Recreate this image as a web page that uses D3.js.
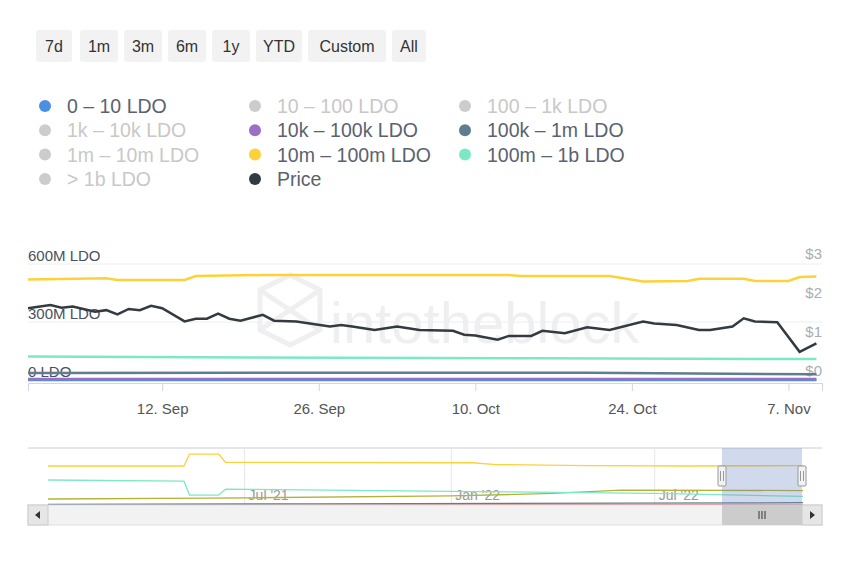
<!DOCTYPE html>
<html><head><meta charset="utf-8">
<script src="https://cdn.jsdelivr.net/npm/d3@7"></script>
<style>body{margin:0;background:#fff;font-family:"Liberation Sans",Arial,sans-serif}</style>
</head><body><svg id="c" width="850" height="567"></svg>
<script>
// --- data ---
const rangeButtons = ["7d", "1m", "3m", "6m", "1y", "YTD", "Custom", "All"];
const legendItems = [
  ["0 – 10 LDO", "#4a90e2", true], ["10 – 100 LDO", "#cccccc", false], ["100 – 1k LDO", "#cccccc", false],
  ["1k – 10k LDO", "#cccccc", false], ["10k – 100k LDO", "#9b6fc4", true], ["100k – 1m LDO", "#5f7d8c", true],
  ["1m – 10m LDO", "#cccccc", false], ["10m – 100m LDO", "#fdd13a", true], ["100m – 1b LDO", "#7de8c6", true],
  ["> 1b LDO", "#cccccc", false], ["Price", "#333a40", true]
];
const leftTicks = [0, 300e6, 600e6];
const rightTicks = [0, 1, 2, 3];
const xTicks = ["2022-09-12", "2022-09-26", "2022-10-10", "2022-10-24", "2022-11-07"];

// [day offset from Aug 31 2022, value]
const priceSeries = [[0,1.79],[2,1.87],[3,1.80],[4,1.83],[6,1.70],[7,1.74],[8,1.63],[9,1.77],[10,1.74],[11,1.85],[12,1.79],
  [14,1.45],[15,1.52],[16,1.52],[17,1.65],[18,1.52],[19,1.47],[21,1.62],[22,1.47],[24,1.45],[27,1.32],[28,1.36],[29,1.32],
  [31,1.23],[33,1.32],[35,1.23],[38,1.21],[39,1.11],[40,1.09],[42,0.98],[43,1.08],[45,1.08],[46,1.21],[48,1.15],[50,1.30],
  [52,1.23],[55,1.45],[56,1.40],[58,1.36],[60,1.23],[61,1.23],[63,1.32],[64,1.53],[65,1.45],[67,1.43],[69,0.67],[70.5,0.89]];
const whale10m = [[0,520e6],[7,526e6],[8,517e6],[14,517e6],[15,538e6],[21,543e6],[43,543e6],[44,538e6],[52,538e6],
  [55,509e6],[59,512e6],[60,524e6],[64,524e6],[65,512e6],[68,512e6],[69,533e6],[70.5,535e6]];
const whale100m = [[0,122e6],[20,116e6],[45,112e6],[70.5,108e6]];
const whale100k = [[0,36e6],[25,38e6],[50,37e6],[70.5,30e6]];
const whale10k = [[0,5e6],[70.5,5e6]];
const whale0 = [[0,0],[70.5,0]];

// navigator: [date, value]
const navYellow = [["2021-01-07",540e6],["2021-05-08",540e6],["2021-05-13",705e6],["2021-06-08",705e6],["2021-06-14",590e6],
  ["2022-01-20",585e6],["2022-02-10",560e6],["2022-05-01",545e6],["2022-08-01",540e6],["2022-11-10",545e6]];
const navTeal = [["2021-01-07",346e6],["2021-05-08",330e6],["2021-05-13",138e6],["2021-06-08",138e6],["2021-06-14",221e6],
  ["2022-01-01",190e6],["2022-07-01",160e6],["2022-11-10",120e6]];
const navOlive = [["2021-01-07",83e6],["2021-06-01",95e6],["2022-01-01",125e6],["2022-04-01",160e6],["2022-06-01",205e6],["2022-11-10",200e6]];
const navSlate = [["2021-01-07",10e6],["2021-09-01",15e6],["2022-06-01",25e6],["2022-11-10",32e6]];
const navRed = [["2021-01-07",0],["2022-11-10",0]];
const navTicks = [["2021-07-01","Jul '21"],["2022-01-01","Jan '22"],["2022-07-01","Jul '22"]];

const svg = d3.select("#c");
const parse = d3.utcParse("%Y-%m-%d");
const day0 = parse("2022-08-31");
const asDate = d => day0.getTime() + d[0] * 864e5;

// buttons
const btnX = [36, 80, 124, 168, 212, 256, 308, 392], btnW = [36, 38, 38, 38, 38, 46, 78, 34];
rangeButtons.forEach((b, i) => {
  svg.append("rect").attr("x", btnX[i]).attr("y", 30).attr("width", btnW[i]).attr("height", 32).attr("rx", 3).attr("fill", "#f2f2f2");
  svg.append("text").attr("x", btnX[i] + btnW[i] / 2).attr("y", 52).attr("text-anchor", "middle")
    .attr("font-size", 16).attr("fill", "#333").text(b);
});

// legend
legendItems.forEach((it, i) => {
  const x = 45 + (i % 3) * 210, y = 106 + Math.floor(i / 3) * 24.3;
  svg.append("circle").attr("cx", x).attr("cy", y).attr("r", 6).attr("fill", it[2] ? it[1] : "#ccc");
  svg.append("text").attr("x", x + 22).attr("y", y + 7).attr("font-size", 19.5)
    .attr("fill", it[2] ? "#5a6270" : "#c8c8c8").text(it[0]);
});

// main plot
const x = d3.scaleUtc().domain([day0, d3.utcDay.offset(day0, 71)]).range([28, 822]);
const yL = d3.scaleLinear().domain([0, 600e6]).range([380, 264]);
const yR = d3.scaleLinear().domain([0, 3]).range([378, 261]);

// watermark
const wm = svg.append("g").attr("opacity", 0.07);
wm.append("path").attr("d", "M260,290 L290,275 L320,290 L320,330 L290,345 L260,330 Z M260,290 L320,330 M320,290 L260,330")
  .attr("fill", "none").attr("stroke", "#334").attr("stroke-width", 5);
wm.append("text").attr("x", 330).attr("y", 343).attr("font-size", 58).attr("fill", "#334").text("intotheblock");

svg.append("g").selectAll("line").data(leftTicks).join("line")
  .attr("x1", 28).attr("x2", 822).attr("y1", d => yL(d)).attr("y2", d => yL(d)).attr("stroke", "#eceef2");
svg.append("g").selectAll("text").data(leftTicks).join("text")
  .attr("x", 28).attr("y", d => yL(d) - 3).attr("font-size", 15).attr("fill", "#4a5060")
  .text(d => d3.format("~s")(d) + " LDO");
svg.append("g").selectAll("text").data(rightTicks).join("text")
  .attr("x", 822).attr("y", d => yR(d) - 2).attr("text-anchor", "end").attr("font-size", 15).attr("fill", "#a8adb5")
  .text(d => "$" + d);

const lineL = d3.line().x(d => x(asDate(d))).y(d => yL(d[1]));
const lineR = d3.line().x(d => x(asDate(d))).y(d => yR(d[1]));
[[whale0, "#4a90e2"], [whale10k, "#9b6fc4"], [whale100k, "#5f7d8c"], [whale100m, "#7de8c6"], [whale10m, "#fdd13a"]]
  .forEach(([s, c]) => svg.append("path").datum(s).attr("d", lineL).attr("fill", "none").attr("stroke", c).attr("stroke-width", 2.5));
svg.append("path").datum(priceSeries).attr("d", lineR).attr("fill", "none").attr("stroke", "#333a40").attr("stroke-width", 2.5);

const xAxis = svg.append("g").attr("transform", "translate(0,383)")
  .call(d3.axisBottom(x).tickValues(xTicks.map(parse)).tickSize(8).tickFormat(d3.utcFormat("%-d. %b")));
xAxis.select(".domain").attr("stroke", "#ccd6eb");
xAxis.selectAll(".tick line").attr("stroke", "#ccd6eb");
xAxis.selectAll("text").attr("font-size", 15).attr("fill", "#555").attr("dy", "1.35em").attr("font-family", "Liberation Sans");

// navigator
const nx = d3.scaleUtc().domain([parse("2021-01-07"), parse("2022-11-10")]).range([48, 803]);
const ny = d3.scaleLinear().domain([0, 540e6]).range([505, 466]);
svg.append("line").attr("x1", 28).attr("x2", 822).attr("y1", 448).attr("y2", 448).attr("stroke", "#ccc");
svg.append("g").selectAll("line").data(navTicks).join("line")
  .attr("x1", d => nx(parse(d[0]))).attr("x2", d => nx(parse(d[0]))).attr("y1", 448).attr("y2", 505).attr("stroke", "#e6e6e6");
svg.append("g").selectAll("text").data(navTicks).join("text")
  .attr("x", d => nx(parse(d[0])) + 4).attr("y", 500).attr("font-size", 14).attr("fill", "#999").text(d => d[1]);
const navLine = d3.line().x(d => nx(parse(d[0]))).y(d => ny(d[1]));
[[navRed, "#c0504d"], [navSlate, "#5f7d8c"], [navOlive, "#b5b23a"], [navTeal, "#7de8c6"], [navYellow, "#fdd13a"]]
  .forEach(([s, c]) => svg.append("path").datum(s).attr("d", navLine).attr("fill", "none").attr("stroke", c).attr("stroke-width", 1.3));
svg.append("rect").attr("x", 722).attr("y", 448).attr("width", 80).attr("height", 57).attr("fill", "rgba(102,133,194,0.3)");
[722, 802].forEach(h => {
  svg.append("rect").attr("x", h - 4).attr("y", 466).attr("width", 8).attr("height", 20).attr("rx", 1).attr("fill", "#f2f2f2").attr("stroke", "#999");
  svg.append("path").attr("d", `M${h - 1.5},471V481M${h + 1.5},471V481`).attr("stroke", "#999");
});
// scrollbar
svg.append("rect").attr("x", 28).attr("y", 505).attr("width", 794).attr("height", 20).attr("fill", "#f2f2f2").attr("stroke", "#e0e0e0");
svg.append("rect").attr("x", 28).attr("y", 505).attr("width", 20).attr("height", 20).attr("fill", "#e6e6e6").attr("stroke", "#ccc");
svg.append("rect").attr("x", 802).attr("y", 505).attr("width", 20).attr("height", 20).attr("fill", "#e6e6e6").attr("stroke", "#ccc");
svg.append("path").attr("d", "M40,511L35,515L40,519Z M810,511L815,515L810,519Z").attr("fill", "#333");
svg.append("rect").attr("x", 722).attr("y", 505).attr("width", 80).attr("height", 20).attr("fill", "#ccc");
svg.append("path").attr("d", "M759,511V519M762,511V519M765,511V519").attr("stroke", "#333");
</script></body></html>
